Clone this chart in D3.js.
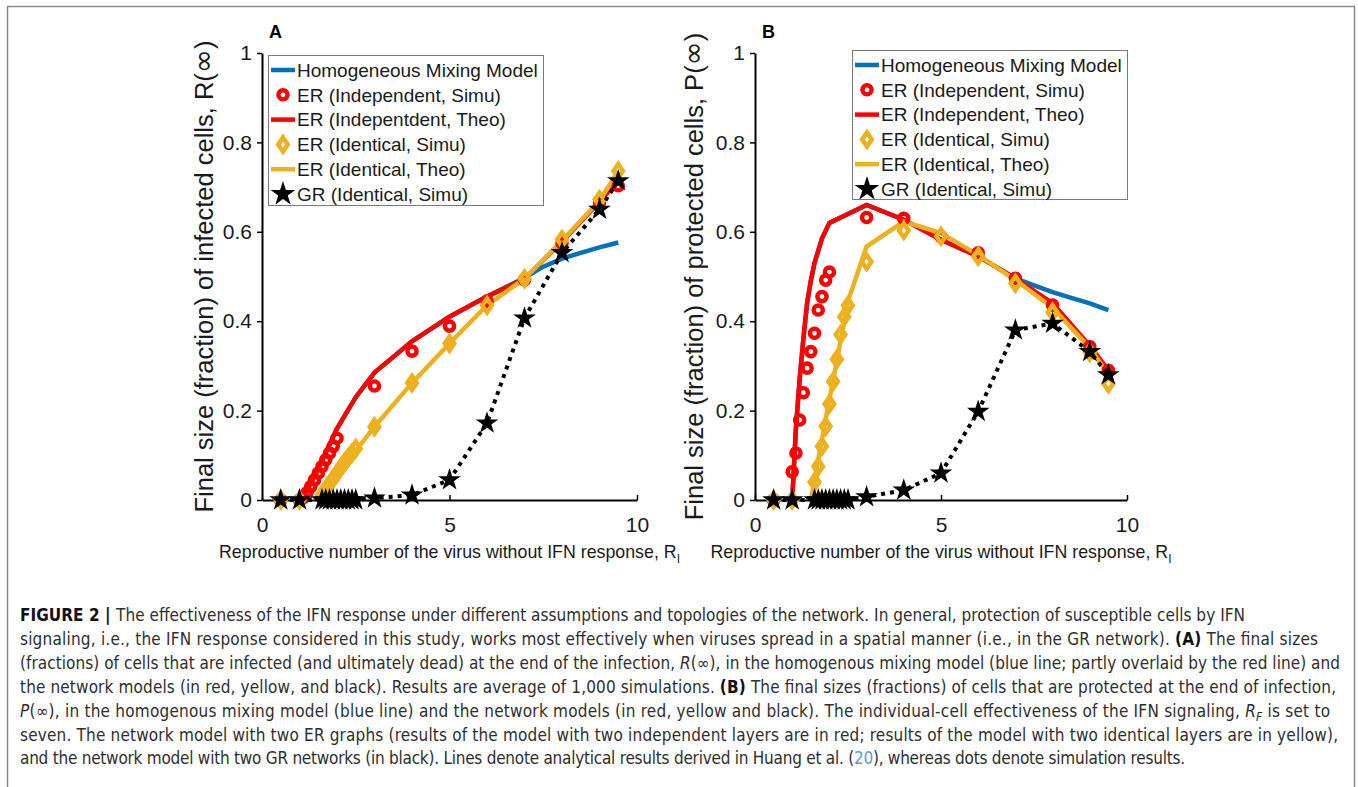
<!DOCTYPE html>
<html>
<head>
<meta charset="utf-8">
<script src="https://cdn.jsdelivr.net/npm/d3@7"></script>
<style>
    body { margin: 0; background: #fff; }
    svg text { font-family: "Liberation Sans", Arial, sans-serif; }
    .caption text { font-family: "Liberation Sans Narrow", "DejaVu Sans Condensed", "Liberation Sans", sans-serif; }
</style>
</head>
<body>
<svg id="fig" width="1358" height="787"></svg>
<script>
// ticks
let xTicks = [0, 5, 10];
let yTicks = [0, 0.2, 0.4, 0.6, 0.8, 1];

// ---- panel A : R(inf) ----
let aHomX = [1, 1.25, 1.5, 1.75, 2, 2.5, 3, 4, 5, 6, 7, 7.5, 8, 8.5, 9, 9.5];
let aHomY = [0, 0.03, 0.07, 0.115, 0.16, 0.23, 0.285, 0.355, 0.41, 0.455, 0.497, 0.522, 0.54, 0.553, 0.565, 0.576];

let aRedTheoX = [1, 1.1, 1.25, 1.5, 1.75, 2, 2.5, 3, 4, 5, 6, 7, 8, 9, 9.5];
let aRedTheoY = [0, 0.012, 0.03, 0.07, 0.115, 0.16, 0.23, 0.285, 0.355, 0.41, 0.455, 0.495, 0.578, 0.667, 0.715];

let aRedSimX = [0.5, 1, 1.1, 1.2, 1.3, 1.4, 1.5, 1.6, 1.7, 1.8, 1.9, 2, 3, 4, 5, 6, 7, 8, 9, 9.5];
let aRedSimY = [0, 0, 0.005, 0.016, 0.03, 0.045, 0.06, 0.075, 0.09, 0.105, 0.12, 0.138, 0.255, 0.333, 0.389, 0.445, 0.493, 0.575, 0.665, 0.703];

let aIdTheoX = [1.5, 2, 2.5, 3, 4, 5, 6, 7, 8, 9, 9.5];
let aIdTheoY = [0, 0.055, 0.11, 0.164, 0.262, 0.35, 0.436, 0.495, 0.58, 0.67, 0.735];

let aIdSimX = [0.5, 1, 1.6, 1.7, 1.8, 1.9, 2, 2.1, 2.2, 2.3, 2.4, 2.5, 3, 4, 5, 6, 7, 8, 9, 9.5];
let aIdSimY = [0, 0, 0.012, 0.024, 0.036, 0.048, 0.06, 0.072, 0.084, 0.095, 0.105, 0.115, 0.164, 0.262, 0.35, 0.435, 0.495, 0.583, 0.672, 0.736];
let aGrSimY = [0, 0, 0, 0, 0, 0, 0, 0, 0, 0, 0, 0, 0.004, 0.011, 0.045, 0.172, 0.407, 0.553, 0.65, 0.714];

// ---- panel B : P(inf) ----
let bHomX = [1, 1.1, 1.2, 1.3, 1.4, 1.5, 1.6, 1.8, 2, 3, 4, 5, 6, 7, 7.5, 8, 8.5, 9, 9.5];
let bHomY = [0, 0.16, 0.27, 0.36, 0.44, 0.49, 0.53, 0.585, 0.62, 0.66, 0.627, 0.582, 0.545, 0.496, 0.48, 0.465, 0.452, 0.44, 0.425];

let bRedTheoX = [1, 1.1, 1.2, 1.3, 1.4, 1.5, 1.6, 1.8, 2, 3, 4, 5, 6, 7, 8, 9, 9.5];
let bRedTheoY = [0, 0.16, 0.27, 0.36, 0.44, 0.49, 0.53, 0.585, 0.62, 0.66, 0.627, 0.582, 0.545, 0.496, 0.44, 0.345, 0.29];

let bRedSimX = [0.5, 1, 1.1, 1.2, 1.3, 1.4, 1.5, 1.6, 1.7, 1.8, 1.9, 2, 3, 4, 5, 6, 7, 8, 9, 9.5];
let bRedSimY = [0, 0.063, 0.105, 0.179, 0.24, 0.295, 0.332, 0.373, 0.425, 0.455, 0.492, 0.51, 0.632, 0.63, 0.589, 0.553, 0.496, 0.436, 0.343, 0.29];

let bIdTheoX = [1.5, 1.6, 1.8, 2, 2.2, 2.5, 3, 4, 5, 6, 7, 8, 9, 9.5];
let bIdTheoY = [0, 0.045, 0.135, 0.225, 0.31, 0.445, 0.567, 0.623, 0.597, 0.548, 0.492, 0.43, 0.34, 0.28];

let bIdSimX = [0.5, 1, 1.6, 1.7, 1.8, 1.9, 2, 2.1, 2.2, 2.3, 2.4, 2.5, 3, 4, 5, 6, 7, 8, 9, 9.5];
let bIdSimY = [0, 0, 0.04, 0.075, 0.12, 0.165, 0.215, 0.265, 0.315, 0.37, 0.41, 0.435, 0.533, 0.603, 0.59, 0.545, 0.485, 0.42, 0.33, 0.26];
let bGrSimY = [0, 0, 0, 0, 0, 0, 0, 0, 0, 0, 0, 0, 0.007, 0.022, 0.06, 0.198, 0.38, 0.395, 0.332, 0.28];

let legendA = ["Homogeneous Mixing Model", "ER (Independent, Simu)", "ER (Indepentdent, Theo)", "ER (Identical, Simu)", "ER (Identical, Theo)", "GR (Identical, Simu)"];
let legendB = ["Homogeneous Mixing Model", "ER (Independent, Simu)", "ER (Independent, Theo)", "ER (Identical, Simu)", "ER (Identical, Theo)", "GR (Identical, Simu)"];

let captionLines = [
    [["FIGURE 2 | ", "b"], ["The effectiveness of the IFN response under different assumptions and topologies of the network. In general, protection of susceptible cells by IFN"]],
    [["signaling, i.e., the IFN response considered in this study, works most effectively when viruses spread in a spatial manner (i.e., in the GR network). "], ["(A)", "b"], [" The final sizes"]],
    [["(fractions) of cells that are infected (and ultimately dead) at the end of the infection, "], ["R", "i"], ["(∞), in the homogenous mixing model (blue line; partly overlaid by the red line) and"]],
    [["the network models (in red, yellow, and black). Results are average of 1,000 simulations. "], ["(B)", "b"], [" The final sizes (fractions) of cells that are protected at the end of infection,"]],
    [["P", "i"], ["(∞), in the homogenous mixing model (blue line) and the network models (in red, yellow and black). The individual-cell effectiveness of the IFN signaling, "], ["R", "i"], ["F", "sub"], [" is set to"]],
    [["seven. The network model with two ER graphs (results of the model with two independent layers are in red; results of the model with two identical layers are in yellow),"]],
    [["and the network model with two GR networks (in black). Lines denote analytical results derived in Huang et al. ("], ["20", "link"], ["), whereas dots denote simulation results."]]
];
// largeur de chaque ligne de la légende (px), pour caler la police de remplacement
let captionWidths = [1225, 1298, 1320, 1316, 1310, 1318, 1165];

let blue = "#0072BD", red = "#FF0000", yellow = "#EDB120";

let svg = d3.select("#fig");

// cadre autour de la figure
svg.append("rect")
    .attr("x", 7.5).attr("y", 6.5)
    .attr("width", 1347).attr("height", 790)
    .attr("fill", "none")
    .attr("stroke", "#8a8a8a")
    .attr("stroke-width", 1.5);

let zip = (xs, ys) => xs.map((v, i) => [v, ys[i]]);

// losange un peu allongé comme dans matlab
let diamondType = {
    draw(ctx) {
        ctx.moveTo(0, -7);
        ctx.lineTo(4.8, 0);
        ctx.lineTo(0, 7);
        ctx.lineTo(-4.8, 0);
        ctx.closePath();
    }
};
let diamondPath = d3.symbol().type(diamondType)();
let starPath = d3.symbol().type(d3.symbolStar).size(160)();

function drawPanel(p) {
    let x = d3.scaleLinear().domain([0, 10]).range(p.xRange);
    let y = d3.scaleLinear().domain([0, 1]).range([500, 53]);
    let g = svg.append("g");
    let line = d3.line().x(d => x(d[0])).y(d => y(d[1]));

    // axes
    let ax = g.append("g")
        .attr("transform", `translate(0,${y(0)})`)
        .call(d3.axisBottom(x).tickValues(xTicks).tickSize(-5).tickSizeOuter(0).tickPadding(17));
    let ay = g.append("g")
        .attr("transform", `translate(${x(0)},0)`)
        .call(d3.axisLeft(y).tickValues(yTicks).tickSize(5).tickSizeOuter(0).tickPadding(5)
            .tickFormat(d => (d === 0 || d === 1) ? String(d) : d.toFixed(1)));
    [ax, ay].forEach(a => {
        a.select(".domain").attr("stroke", "#000").attr("stroke-width", 2);
        a.selectAll(".tick line").attr("stroke", "#000").attr("stroke-width", 1.5);
        a.selectAll(".tick text").attr("font-size", "21px").attr("fill", "#1a1a1a")
            .style("font-family", "'Liberation Sans', Arial, sans-serif");
    });

    // courbes
    g.append("path").attr("d", line(p.hom)).attr("fill", "none").attr("stroke", blue).attr("stroke-width", 4.5);
    g.append("path").attr("d", line(p.redTheo)).attr("fill", "none").attr("stroke", red).attr("stroke-width", 4.5);
    g.append("path").attr("d", line(p.idTheo)).attr("fill", "none").attr("stroke", yellow).attr("stroke-width", 4.5);

    g.selectAll(".rond")
        .data(p.redSim)
        .join("circle")
        .attr("class", "rond")
        .attr("cx", d => x(d[0]))
        .attr("cy", d => y(d[1]))
        .attr("r", 4.6)
        .attr("fill", "none")
        .attr("stroke", red)
        .attr("stroke-width", 4.4);

    g.selectAll(".losange")
        .data(p.idSim)
        .join("path")
        .attr("class", "losange")
        .attr("d", diamondPath)
        .attr("transform", d => `translate(${x(d[0])},${y(d[1])})`)
        .attr("fill", "none")
        .attr("stroke", yellow)
        .attr("stroke-width", 4.5);

    g.append("path").attr("d", line(p.grSim)).attr("fill", "none")
        .attr("stroke", "#000").attr("stroke-width", 4).attr("stroke-dasharray", "4 5");

    g.selectAll(".etoile")
        .data(p.grSim)
        .join("path")
        .attr("class", "etoile")
        .attr("d", starPath)
        .attr("transform", d => `translate(${x(d[0])},${y(d[1])})`)
        .attr("fill", "#000");

    // titres des axes
    g.append("text")
        .attr("x", x(5)).attr("y", 558)
        .attr("text-anchor", "middle")
        .attr("font-size", "17.8px")
        .attr("fill", "#1a1a1a")
        .text("Reproductive number of the virus without IFN response, R")
        .append("tspan").attr("dy", 5).attr("font-size", "12px").text("I");

    let yl = g.append("text")
        .attr("transform", `translate(${p.yLabelX},${y(0.5)}) rotate(-90)`)
        .attr("text-anchor", "middle")
        .attr("font-size", "25.5px")
        .attr("fill", "#1a1a1a")
        .text(p.yLabel);
    yl.append("tspan").style("font-family", "'DejaVu Sans', sans-serif").attr("font-size", "29px").text("∞");
    yl.append("tspan").text(")");

    g.append("text")
        .attr("x", p.letterX).attr("y", 38)
        .attr("font-size", "18px").attr("font-weight", "bold")
        .text(p.letter);

    // légende
    let lg = g.append("g");
    lg.append("rect")
        .attr("x", p.legBox[0] + 0.5).attr("y", p.legBox[1] + 0.5)
        .attr("width", p.legBox[2]).attr("height", p.legBox[3])
        .attr("fill", "#fff").attr("stroke", "#7a7a7a").attr("stroke-width", 1);
    let lx = p.legBox[0] + 3, ly0 = p.legBox[1] + 15, step = 24.8;
    let mx = lx + 12;
    lg.append("line").attr("x1", lx).attr("x2", lx + 24).attr("y1", ly0).attr("y2", ly0).attr("stroke", blue).attr("stroke-width", 4.5);
    lg.append("circle").attr("cx", mx).attr("cy", ly0 + step).attr("r", 4.6).attr("fill", "none").attr("stroke", red).attr("stroke-width", 4.4);
    lg.append("line").attr("x1", lx).attr("x2", lx + 24).attr("y1", ly0 + 2 * step).attr("y2", ly0 + 2 * step).attr("stroke", red).attr("stroke-width", 4.5);
    lg.append("path").attr("d", diamondPath).attr("transform", `translate(${mx},${ly0 + 3 * step})`).attr("fill", "none").attr("stroke", yellow).attr("stroke-width", 4.5);
    lg.append("line").attr("x1", lx).attr("x2", lx + 24).attr("y1", ly0 + 4 * step).attr("y2", ly0 + 4 * step).attr("stroke", yellow).attr("stroke-width", 4.5);
    lg.append("path").attr("d", d3.symbol().type(d3.symbolStar).size(190)()).attr("transform", `translate(${mx},${ly0 + 5 * step})`).attr("fill", "#000");

    lg.selectAll(".legtxt")
        .data(p.legend)
        .join("text")
        .attr("class", "legtxt")
        .attr("x", lx + 26)
        .attr("y", (d, i) => ly0 + i * step + 6.8)
        .attr("font-size", "19px")
        .attr("fill", "#1a1a1a")
        .text(d => d);
}

drawPanel({
    xRange: [262, 637], letter: "A", letterX: 269, yLabelX: 213,
    yLabel: "Final size (fraction) of infected cells, R(",
    legBox: [268, 55, 275, 150], legend: legendA,
    hom: zip(aHomX, aHomY), redTheo: zip(aRedTheoX, aRedTheoY), redSim: zip(aRedSimX, aRedSimY),
    idTheo: zip(aIdTheoX, aIdTheoY), idSim: zip(aIdSimX, aIdSimY), grSim: zip(aIdSimX, aGrSimY)
});

drawPanel({
    xRange: [755, 1127], letter: "B", letterX: 762, yLabelX: 703,
    yLabel: "Final size (fraction) of protected cells, P(",
    legBox: [852, 50, 275, 149], legend: legendB,
    hom: zip(bHomX, bHomY), redTheo: zip(bRedTheoX, bRedTheoY), redSim: zip(bRedSimX, bRedSimY),
    idTheo: zip(bIdTheoX, bIdTheoY), idSim: zip(bIdSimX, bIdSimY), grSim: zip(bIdSimX, bGrSimY)
});

// légende de la figure
let cap = svg.append("g").attr("class", "caption");
captionLines.forEach((segs, i) => {
    let t = cap.append("text")
        .attr("x", 20)
        .attr("y", 621 + i * 23.9)
        .attr("font-size", "17px")
        .attr("fill", "#2e2e2e")
        .attr("textLength", captionWidths[i])
        .attr("lengthAdjust", "spacing");
    segs.forEach((s, j) => {
        let sp = t.append("tspan").text(s[0]);
        if (s[1] === "b") sp.attr("font-weight", "bold").attr("fill", "#111");
        if (s[1] === "i") sp.attr("font-style", "italic");
        if (s[1] === "link") sp.attr("fill", "#5b9bd5");
        if (s[1] === "sub") sp.attr("font-style", "italic").attr("font-size", "12px").attr("dy", 4);
        // on remonte la ligne de base après l'indice
        if (j > 0 && segs[j - 1][1] === "sub") sp.attr("dy", -4);
    });
});
</script>
</body>
</html>
